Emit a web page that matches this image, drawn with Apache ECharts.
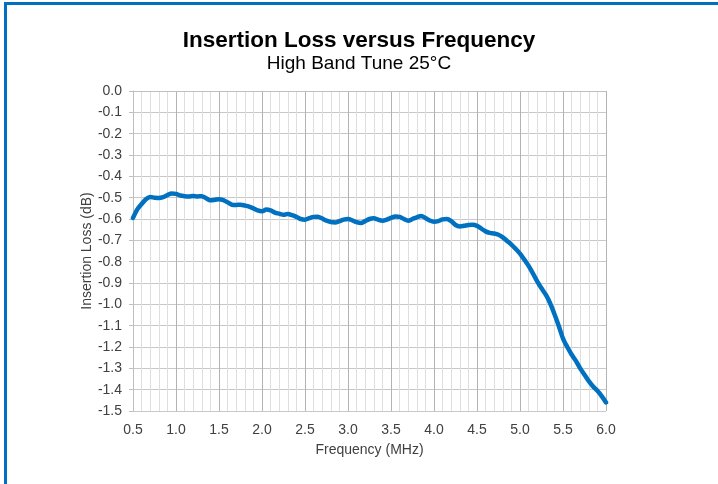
<!DOCTYPE html>
<html><head><meta charset="utf-8">
<script src="https://cdn.jsdelivr.net/npm/echarts@6/dist/echarts.min.js"></script>
<style>
html,body{margin:0;padding:0;background:#fff;}
#c{position:absolute;left:0;top:0;width:718px;height:484px;}
.bt{position:absolute;left:4px;top:2px;width:714px;height:3px;background:#0070C0;}
.bl{position:absolute;left:4px;top:2px;width:3px;height:482px;background:#0070C0;}
</style></head>
<body>
<div id="c"></div>
<div class="bt"></div><div class="bl"></div>
<script>
const titleText = "Insertion Loss versus Frequency";
const subtitleText = "High Band Tune 25°C";
const xName = "Frequency (MHz)";
const yName = "Insertion Loss (dB)";
const freq = [0.50,0.55,0.60,0.65,0.70,0.75,0.80,0.85,0.90,0.95,1.00,1.05,1.10,1.15,1.20,1.25,1.30,1.35,1.40,1.45,1.50,1.55,1.60,1.65,1.70,1.75,1.80,1.85,1.90,1.95,2.00,2.05,2.10,2.15,2.20,2.25,2.30,2.35,2.40,2.45,2.50,2.55,2.60,2.65,2.70,2.75,2.80,2.85,2.90,2.95,3.00,3.05,3.10,3.15,3.20,3.25,3.30,3.35,3.40,3.45,3.50,3.55,3.60,3.65,3.70,3.75,3.80,3.85,3.90,3.95,4.00,4.05,4.10,4.15,4.20,4.25,4.30,4.35,4.40,4.45,4.50,4.55,4.60,4.65,4.70,4.75,4.80,4.85,4.90,4.95,5.00,5.05,5.10,5.15,5.20,5.25,5.30,5.35,5.40,5.45,5.50,5.55,5.60,5.65,5.70,5.75,5.80,5.85,5.90,5.95,6.00];
const loss = [-0.595,-0.555,-0.530,-0.507,-0.497,-0.500,-0.502,-0.498,-0.488,-0.480,-0.482,-0.490,-0.493,-0.494,-0.492,-0.494,-0.493,-0.503,-0.512,-0.510,-0.507,-0.512,-0.522,-0.533,-0.534,-0.533,-0.537,-0.542,-0.550,-0.560,-0.564,-0.556,-0.560,-0.570,-0.575,-0.580,-0.576,-0.582,-0.590,-0.600,-0.603,-0.596,-0.590,-0.589,-0.598,-0.608,-0.614,-0.616,-0.610,-0.603,-0.600,-0.606,-0.615,-0.619,-0.610,-0.600,-0.597,-0.603,-0.608,-0.603,-0.595,-0.588,-0.590,-0.600,-0.608,-0.600,-0.592,-0.586,-0.595,-0.607,-0.613,-0.610,-0.602,-0.600,-0.610,-0.628,-0.635,-0.632,-0.628,-0.627,-0.632,-0.645,-0.658,-0.665,-0.668,-0.674,-0.686,-0.703,-0.720,-0.740,-0.762,-0.790,-0.820,-0.855,-0.892,-0.925,-0.955,-0.995,-1.045,-1.100,-1.160,-1.200,-1.235,-1.265,-1.300,-1.330,-1.360,-1.385,-1.405,-1.430,-1.460];

const chart = echarts.init(document.getElementById('c'), null, {renderer:'canvas'});
const font = '"Liberation Sans", Arial, sans-serif';
chart.setOption({
  animation:false,
  backgroundColor:'#fff',
  title:[
    {text:titleText, left:'center', top:24, textStyle:{fontFamily:font,fontSize:22.5,fontWeight:'bold',color:'#000'}},
    {text:subtitleText, left:'center', top:49, textStyle:{fontFamily:font,fontSize:19,fontWeight:'normal',color:'#000'}}
  ],
  grid:{left:133,right:112,top:91,bottom:73,containLabel:false},
  xAxis:{
    type:'value',min:0.5,max:6.0,interval:0.5,
    name:xName,nameLocation:'middle',nameGap:32,
    nameTextStyle:{fontFamily:font,fontSize:14,color:'#404040'},
    axisLine:{show:true,lineStyle:{color:'#bfbfbf',width:1}},
    axisTick:{show:false},
    axisLabel:{fontFamily:font,fontSize:14,color:'#404040',margin:12,formatter:v=>v.toFixed(1)},
    splitLine:{show:true,lineStyle:{color:'#b3b3b3',width:1}},
    minorTick:{show:false,splitNumber:5},
    minorSplitLine:{show:true,lineStyle:{color:'#dedede',width:1}}
  },
  yAxis:{
    type:'value',min:-1.5,max:0,interval:0.1,
    name:yName,nameLocation:'middle',nameGap:39,nameRotate:90,nameMoveOverlap:false,
    nameTextStyle:{fontFamily:font,fontSize:14,color:'#404040'},
    axisLine:{show:true,lineStyle:{color:'#bfbfbf',width:1}},
    axisTick:{show:true,length:4,lineStyle:{color:'#bfbfbf'}},
    axisLabel:{fontFamily:font,fontSize:14,color:'#404040',margin:11,formatter:v=>(Math.round(v*10)/10).toFixed(1)},
    splitLine:{show:true,lineStyle:{color:'#c8c8c8',width:1}}
  },
  series:[{
    type:'line',
    data:freq.map((f,i)=>[f,loss[i]]),
    showSymbol:false,symbol:'none',
    smooth:0.3,
    lineStyle:{color:'#0070C0',width:4.5,cap:'round',join:'round'}
  }]
});
</script>
</body></html>
